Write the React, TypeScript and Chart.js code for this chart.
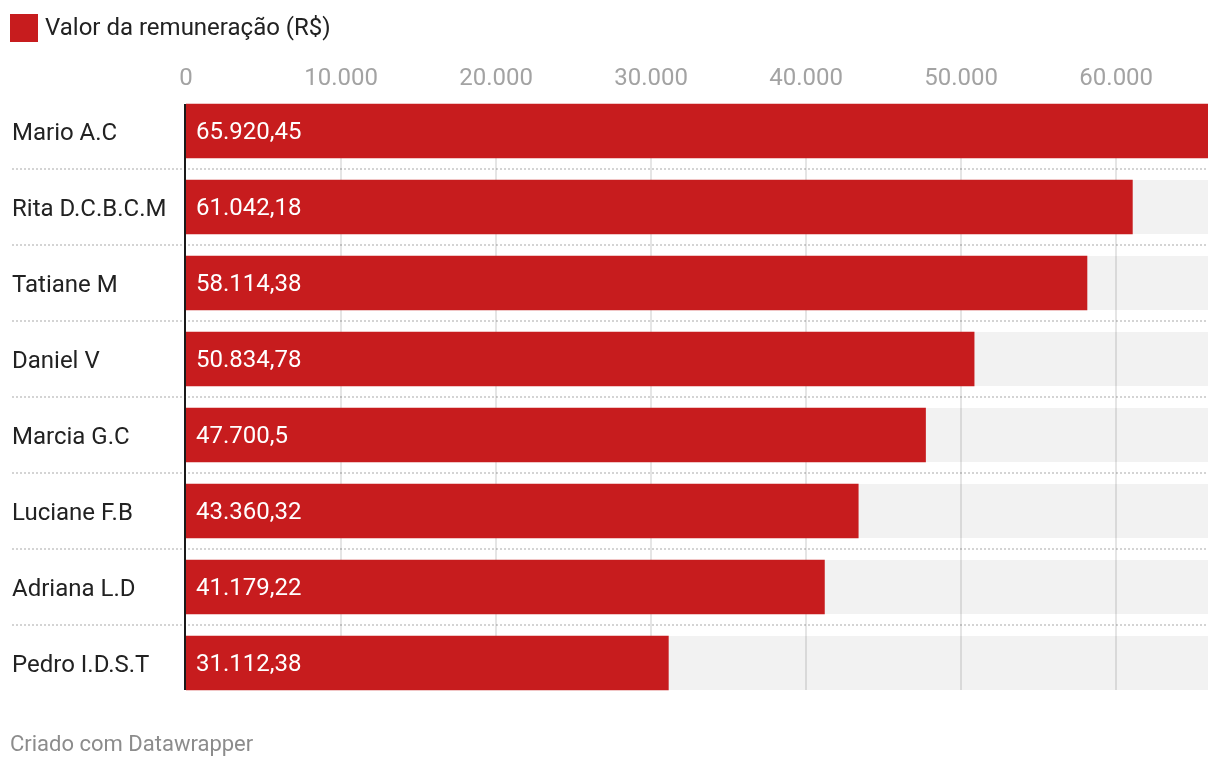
import React, { useEffect, useRef } from "react";
import { Chart, registerables } from "chart.js";

Chart.register(...registerables);

const CATEGORIES = [
  "Mario A.C",
  "Rita D.C.B.C.M",
  "Tatiane M",
  "Daniel V",
  "Marcia G.C",
  "Luciane F.B",
  "Adriana L.D",
  "Pedro I.D.S.T",
];
const VALUES = [65920.45, 61042.18, 58114.38, 50834.78, 47700.5, 43360.32, 41179.22, 31112.38];
const X_TICKS = [0, 10000, 20000, 30000, 40000, 50000, 60000];
const X_MAX = 65920.45;
const SERIES_LABEL = "Valor da remuneração (R$)";
const FOOTER = "Criado com Datawrapper";

const RED = "#c71c1e";
const FONT = "Roboto, 'Noto Sans', sans-serif";
const FS = 24;

function groupThousands(s: string): string {
  return s.replace(/\B(?=(\d{3})+(?!\d))/g, ".");
}
function fmtValue(v: number): string {
  const fixed = v.toFixed(2);
  let [ip, dp] = fixed.split(".");
  dp = dp.replace(/0+$/, "");
  return groupThousands(ip) + (dp ? "," + dp : "");
}
function fmtTick(v: number): string {
  return groupThousands(String(Math.round(v)));
}

const overlayPlugin = {
  id: "dwOverlay",
  beforeDatasetsDraw(chart: any) {
    const { ctx, scales } = chart;
    const meta = chart.getDatasetMeta(0);
    const bars = meta.data as any[];
    if (!bars.length) return;
    const xs = scales.x;
    ctx.save();
    // background tracks
    ctx.fillStyle = "#f2f2f2";
    const right = xs.getPixelForValue(X_MAX);
    const left = xs.getPixelForValue(0);
    bars.forEach((b) => {
      ctx.fillRect(left, b.y - b.height / 2, right - left, b.height);
    });
    // dotted separators between rows
    ctx.strokeStyle = "#d4d4d4";
    ctx.lineWidth = 2;
    ctx.setLineDash([2, 2]);
    for (let i = 0; i < bars.length - 1; i++) {
      const y = Math.round((bars[i].y + bars[i + 1].y) / 2);
      ctx.beginPath();
      ctx.moveTo(12, y);
      ctx.lineTo(right, y);
      ctx.stroke();
    }
    ctx.setLineDash([]);
    // vertical gridlines
    const top = bars[0].y - bars[0].height / 2;
    const bottom = bars[bars.length - 1].y + bars[bars.length - 1].height / 2;
    ctx.strokeStyle = "rgba(0,0,0,0.1)";
    ctx.lineWidth = 2;
    X_TICKS.forEach((t) => {
      if (t === 0) return;
      const x = Math.round(xs.getPixelForValue(t));
      ctx.beginPath();
      ctx.moveTo(x, top);
      ctx.lineTo(x, bottom);
      ctx.stroke();
    });
    ctx.restore();
  },
  afterDatasetsDraw(chart: any) {
    const { ctx, scales } = chart;
    const meta = chart.getDatasetMeta(0);
    const bars = meta.data as any[];
    if (!bars.length) return;
    const xs = scales.x;
    const left = xs.getPixelForValue(0);
    ctx.save();
    // value labels
    ctx.fillStyle = "#ffffff";
    ctx.font = `${FS}px ${FONT}`;
    ctx.textBaseline = "middle";
    ctx.textAlign = "left";
    bars.forEach((b, i) => {
      ctx.fillText(fmtValue(VALUES[i]), left + 10, b.y + 2);
    });
    // axis baseline
    const top = bars[0].y - bars[0].height / 2;
    const bottom = bars[bars.length - 1].y + bars[bars.length - 1].height / 2;
    ctx.strokeStyle = "#1a1a1a";
    ctx.lineWidth = 2;
    ctx.beginPath();
    ctx.moveTo(left - 1, top);
    ctx.lineTo(left - 1, bottom);
    ctx.stroke();
    ctx.restore();
  },
};

export default function App() {
  const canvasRef = useRef<HTMLCanvasElement | null>(null);

  useEffect(() => {
    document.body.style.margin = "0";
    const canvas = canvasRef.current;
    if (!canvas) return;
    const chart = new Chart(canvas, {
      type: "bar",
      data: {
        labels: CATEGORIES,
        datasets: [
          {
            label: SERIES_LABEL,
            data: VALUES,
            backgroundColor: RED,
            borderWidth: 0,
            barThickness: 54,
          },
        ],
      },
      options: {
        indexAxis: "y",
        animation: false,
        responsive: false,
        maintainAspectRatio: false,
        devicePixelRatio: 1,
        layout: { padding: { left: 12, right: 12, top: 0, bottom: 67 } },
        plugins: {
          legend: { display: false },
          tooltip: { enabled: false },
        },
        scales: {
          x: {
            type: "linear",
            position: "top",
            min: 0,
            max: X_MAX,
            afterBuildTicks: (scale: any) => {
              scale.ticks = X_TICKS.map((v) => ({ value: v }));
            },
            afterFit: (scale: any) => {
              scale.height = 93;
            },
            grid: { display: false, drawTicks: false },
            border: { display: false },
            ticks: {
              padding: 0,
              maxRotation: 0,
              autoSkip: false,
              color: "#a3a3a3",
              font: { family: FONT, size: FS },
              callback: (v: any) => fmtTick(Number(v)),
            },
          },
          y: {
            type: "category",
            grid: { display: false, drawTicks: false },
            border: { display: false },
            afterFit: (scale: any) => {
              scale.width = 174;
            },
            ticks: {
              crossAlign: "far",
              padding: 0,
              labelOffset: 3,
              color: "#222222",
              font: { family: FONT, size: FS },
            },
          },
        },
      },
      plugins: [overlayPlugin],
    });
    return () => chart.destroy();
  }, []);

  return (
    <div
      style={{
        position: "fixed",
        left: 0,
        top: 0,
        width: 1220,
        height: 768,
        background: "#fff",
        fontFamily: FONT,
      }}
    >
      <canvas ref={canvasRef} width={1220} height={768} style={{ position: "absolute", left: 0, top: 0 }} />
      <div
        style={{
          position: "absolute",
          left: 10,
          top: 13,
          height: 28,
          display: "flex",
          alignItems: "center",
          fontSize: FS,
          color: "#222",
          whiteSpace: "nowrap",
        }}
      >
        <span style={{ display: "inline-block", width: 28, height: 28, marginTop: 2, background: RED, marginRight: 7 }} />
        <span>{SERIES_LABEL}</span>
      </div>
      <div
        style={{
          position: "absolute",
          left: 10,
          top: 730,
          fontSize: 22,
          lineHeight: "28px",
          color: "#8c8c8c",
          whiteSpace: "nowrap",
        }}
      >
        {FOOTER}
      </div>
    </div>
  );
}
